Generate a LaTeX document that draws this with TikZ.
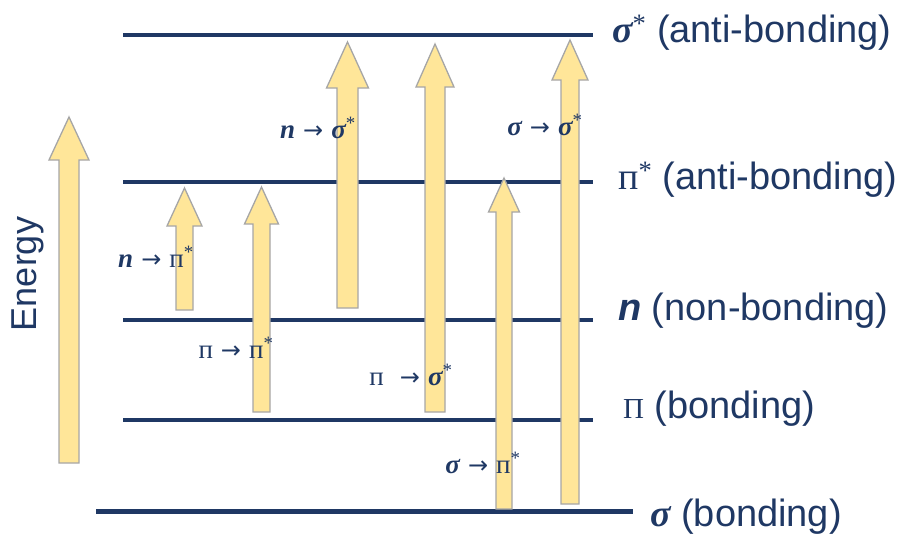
\documentclass[tikz,border=0pt]{standalone}
\usepackage{fontspec}
\setmainfont{Liberation Sans}
\newfontfamily\serifcyr{Liberation Serif}
\newfontfamily\arrowfont{DejaVu Sans}
\definecolor{navy}{RGB}{31,56,100}
\definecolor{arrowfill}{RGB}{255,230,153}
\definecolor{arrowgray}{RGB}{166,166,166}
\newcommand{\pe}{{\serifcyr п}}
\newcommand{\sg}{{\serifcyr\bfseries\itshape σ}}
\newcommand{\nn}{{\serifcyr\bfseries\itshape n}}
\newcommand{\ar}{\hspace{8pt}{\arrowfont\fontsize{24}{26}\selectfont →}\hspace{8pt}}
\newcommand{\st}{{\serifcyr\textsuperscript{*}}}
\newcommand{\fatup}[6]{\draw[fatarrow] (#1-#2,-#3) -- (#1-#2,-#5) -- (#1-#4,-#5) -- (#1,-#6) -- (#1+#4,-#5) -- (#1+#2,-#5) -- (#1+#2,-#3) -- cycle;}
\tikzset{
  level/.style={draw=navy, line width=3.5pt},
  baselevel/.style={draw=navy, line width=5pt},
  fatarrow/.style={fill=arrowfill, draw=arrowgray, line width=1.3pt, line join=miter},
  tlab/.style={text=navy, font=\fontsize{27}{30}\selectfont, inner sep=0pt},
  rlab/.style={text=navy, font=\fontsize{38}{42}\selectfont, anchor=base west, inner sep=0pt},
}
\begin{document}
\begin{tikzpicture}[x=1pt,y=1pt]
\useasboundingbox (0,0) rectangle (901,-535);
% energy levels
\coordinate (s1a) at (123,-35);  \coordinate (s1b) at (593,-35);
\coordinate (p1a) at (123,-182); \coordinate (p1b) at (593,-182);
\coordinate (na)  at (123,-320); \coordinate (nb)  at (593,-320);
\coordinate (pa)  at (123,-420); \coordinate (pb)  at (593,-420);
\coordinate (sa)  at (96,-511.5); \coordinate (sb) at (633,-511.5);
\draw[level] (s1a) -- (s1b);
\draw[level] (p1a) -- (p1b);
\draw[level] (na) -- (nb);
\draw[level] (pa) -- (pb);
\draw[baselevel] (sa) -- (sb);
% arrows
\fatup{69}{10}{463}{20}{160}{117}
\fatup{184.5}{8.5}{310}{17.5}{226}{188}
\fatup{261.5}{8.5}{412}{17}{224}{187}
\fatup{347.5}{10.5}{308}{21}{88}{42}
\fatup{435}{10}{412}{19}{87}{44}
\fatup{504}{8}{509}{15.5}{212}{178}
\fatup{570}{9}{504}{18}{80}{40}
% energy label
\node[text=navy, rotate=90, font=\fontsize{36}{40}\selectfont, inner sep=0pt] (energy) at (28,-274) {Energy};
% transition labels
\node[tlab] (t1) at (156,-257) {\nn\ar\pe\st};
\node[tlab] (t2) at (318,-128) {\nn\ar\sg\st};
\node[tlab] (t3) at (236,-348) {\pe\ar\pe\st};
\node[tlab] (t4) at (545,-125) {\sg\ar\sg\st};
\node[tlab] (t5) at (411,-375) {\pe\hspace{8pt}\ar\sg\st};
\node[tlab] (t6) at (483,-463) {\sg\ar\pe\st};
% level labels
\node[rlab] (r1) at (612,-42) {\sg\st{} (anti-bonding)};
\node[rlab] (r2) at (618,-189) {\pe\st{} (anti-bonding)};
\node[rlab] (r3) at (618,-320) {\textbf{\textit{n}} (non-bonding)};
\node[rlab] (r4) at (623,-418) {{\serifcyr\fontsize{29}{31}\selectfont Π} (bonding)};
\node[rlab] (r5) at (650,-526) {\sg{} (bonding)};
\end{tikzpicture}
\end{document}
